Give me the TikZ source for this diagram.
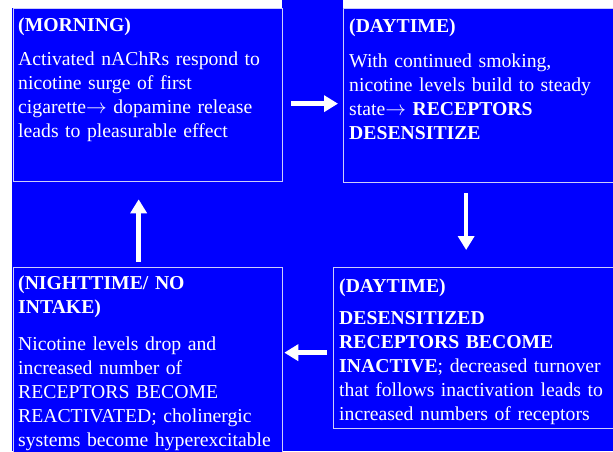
\documentclass[tikz,border=0pt]{standalone}
\usepackage{fontspec}
\setmainfont{Liberation Serif}
\usepackage{tikz}
\usetikzlibrary{positioning,arrows.meta}
\definecolor{slideblue}{RGB}{0,0,255}
\definecolor{rim}{RGB}{205,205,250}
\tikzset{
  panel/.style={draw=rim,line width=1.3pt,fill=slideblue,anchor=north west,inner sep=0pt},
  txt/.style={text=white,anchor=base west,align=left,inner sep=0pt,text width=275pt,
              font=\fontsize{19.7}{24}\selectfont},
  flow/.style={white,line width=4.5pt,-{Triangle[width=16pt,length=14pt]}},
}

\begin{document}
\begin{tikzpicture}[x=1pt,y=-1pt]
  \useasboundingbox (0,0) rectangle (613,451);
  % slide background
  \fill[slideblue] (12,8) rectangle (613,451);
  \fill[slideblue] (282,0) rectangle (343,8);
  % the four panels
  \node[panel,minimum width=269pt,minimum height=173pt] (mor) at (13,8) {};
  \node[panel,minimum width=285pt,minimum height=174pt] (day) at (343,8) {};
  \node[panel,minimum width=295pt,minimum height=161pt] (ina) at (333,267) {};
  \node[panel,minimum width=269pt,minimum height=200pt] (nig) at (13,267) {};
  % texts
  \node[txt] (mortxt) at ([shift={(5,23)}]mor.north west) {%
    \textbf{(MORNING)}\\[10pt]
    Activated nAChRs respond to\\
    nicotine surge of first\\
    cigarette$\rightarrow$ dopamine release\\
    leads to pleasurable effect};
  \node[txt] (daytxt) at ([shift={(6,24)}]day.north west) {%
    \textbf{(DAYTIME)}\\[11pt]
    With continued smoking,\\
    nicotine levels build to steady\\
    state$\rightarrow$ \textbf{RECEPTORS}\\
    \textbf{DESENSITIZE}};
  \node[txt] (inatxt) at ([shift={(6,25)}]ina.north west) {%
    \textbf{(DAYTIME)}\\[8pt]
    \textbf{DESENSITIZED}\\
    \textbf{RECEPTORS BECOME}\\
    \textbf{INACTIVE}; decreased turnover\\
    that follows inactivation leads to\\
    increased numbers of receptors};
  \node[txt] (nigtxt) at ([shift={(5,22)}]nig.north west) {%
    \textbf{(NIGHTTIME/ NO}\\
    \textbf{INTAKE)}\\[13pt]
    Nicotine levels drop and\\
    increased number of\\
    RECEPTORS BECOME\\
    REACTIVATED; cholinergic\\
    systems become hyperexcitable};
  % cycle arrows
  \draw[flow,shorten <=8pt,shorten >=5pt]
    ([yshift=-8.5pt]mor.east) -- ([yshift=-8.5pt]mor.east -| day.west);
  \draw[flow,shorten <=10pt,shorten >=17pt]
    ([xshift=-20pt]day.south) -- ([xshift=-20pt]day.south |- ina.north);
  \draw[flow,shorten <=6pt,shorten >=1pt]
    ([yshift=-4.5pt]ina.west) -- ([yshift=-4.5pt]ina.west -| nig.east);
  \draw[flow,shorten <=5pt,shorten >=17pt]
    ([xshift=-9.5pt]nig.north) -- ([xshift=-9.5pt]nig.north |- mor.south);
\end{tikzpicture}
\end{document}
